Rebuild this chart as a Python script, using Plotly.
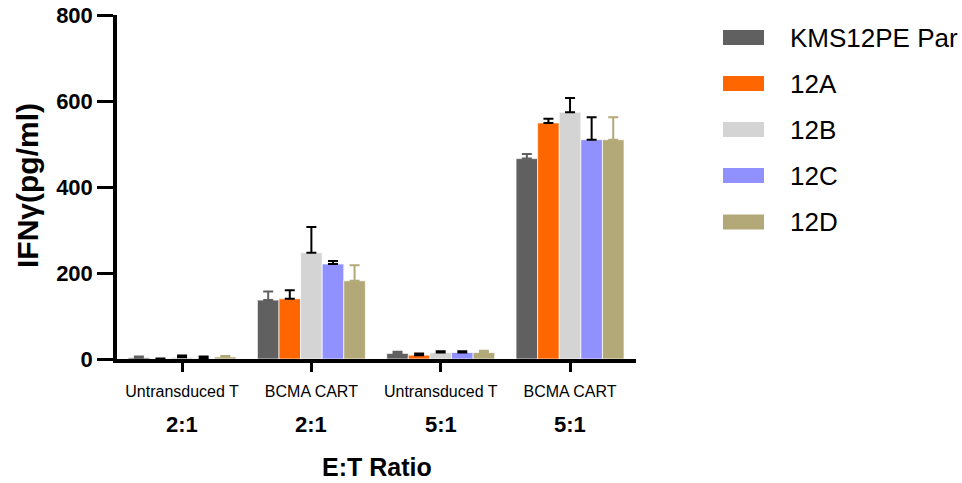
import plotly.graph_objects as go

# IFN-gamma release by effector type and E:T ratio
conditions = ["Untransduced T", "BCMA CART", "Untransduced T", "BCMA CART"]
ratios = ["2:1", "2:1", "5:1", "5:1"]
series = ["KMS12PE Par", "12A", "12B", "12C", "12D"]
colors = ["#606060", "#FF6600", "#D4D4D4", "#9090FF", "#B3A978"]
err_colors = ["#606060", "#000000", "#000000", "#000000", "#B3A978"]

# mean values (pg/ml), one list per target line, across the four conditions
kms12pe_par = [3, 137, 13, 466]
a12 = [0.5, 140, 9, 549]
b12 = [4, 247, 15, 574]
c12 = [1, 221, 15, 510]
d12 = [5, 182, 15, 510]
means = [kms12pe_par, a12, b12, c12, d12]

# upper error (SD)
kms12pe_par_err = [3, 20, 4, 11]
a12_err = [0.5, 20, 4, 10]
b12_err = [4, 60, 3, 33]
c12_err = [5, 7, 3, 52]
d12_err = [2, 36, 4, 52]
errors = [kms12pe_par_err, a12_err, b12_err, c12_err, d12_err]

y_ticks = [0, 200, 400, 600, 800]

FONT = "Liberation Sans, Arial, Helvetica, sans-serif"
positions = list(range(len(conditions)))

fig = go.Figure()
for name, vals, errs, col, ecol in zip(series, means, errors, colors, err_colors):
    fig.add_trace(go.Bar(
        x=positions, y=vals, name=name,
        marker=dict(color=col, line=dict(color="rgba(255,255,255,0.7)", width=1)),
        error_y=dict(type="data", symmetric=False, array=errs,
                     arrayminus=[0] * len(errs), color=ecol,
                     thickness=2, width=5),
        showlegend=False,
    ))

L, R, T, B = 117, 326, 15, 124
plot_w = 962 - L - R
plot_h = 483 - T - B


def py(px):
    """pixel row -> paper y"""
    return (T + plot_h - px) / plot_h


annotations = []
# ratio row under the condition labels
for p, r in zip(positions, ratios):
    annotations.append(dict(x=p, xref="x", y=py(425), yref="paper",
                            text="<b>%s</b>" % r, showarrow=False,
                            xanchor="center", yanchor="middle",
                            font=dict(family=FONT, size=22, color="black")))
# x axis title
annotations.append(dict(x=0.5, xref="paper", y=py(467), yref="paper",
                        text="<b>E:T Ratio</b>", showarrow=False,
                        xanchor="center", yanchor="middle",
                        font=dict(family=FONT, size=25, color="black")))
# y axis title
annotations.append(dict(x=(27 - L) / plot_w, xref="paper", y=py(186), yref="paper",
                        text="<b>IFNγ(pg/ml)</b>", showarrow=False, textangle=-90,
                        xanchor="center", yanchor="middle",
                        font=dict(family=FONT, size=30, color="black")))

# legend: large swatches with labels
shapes = []
row_px = [37.5, 83.5, 129.5, 175.5, 222]
for yc, name, col in zip(row_px, series, colors):
    yp = py(yc)
    half = 7.5 / plot_h
    shapes.append(dict(type="rect", xref="paper", yref="paper",
                       x0=(723 - L) / plot_w, x1=(764 - L) / plot_w,
                       y0=yp - half, y1=yp + half,
                       fillcolor=col, line=dict(width=0)))
    annotations.append(dict(x=(788 - L) / plot_w, xref="paper", y=yp, yref="paper",
                            text=name, showarrow=False, xanchor="left",
                            yanchor="middle",
                            font=dict(family=FONT, size=26, color="black")))

fig.update_layout(
    width=962, height=483,
    margin=dict(l=L, r=R, t=T, b=B, autoexpand=False),
    paper_bgcolor="white", plot_bgcolor="white",
    barmode="group", bargap=0.165, bargroupgap=0,
    font=dict(family=FONT, color="black"),
    annotations=annotations, shapes=shapes,
    xaxis=dict(range=[-0.503, 3.51], tickvals=positions, ticktext=conditions,
               showline=True, linecolor="black", linewidth=3.5,
               ticks="outside", ticklen=9, tickwidth=3, tickcolor="black",
               ticklabelstandoff=6,
               tickfont=dict(family=FONT, size=16, color="black"),
               showgrid=False, zeroline=False, fixedrange=True),
    yaxis=dict(range=[0, 800], tickvals=y_ticks,
               showline=True, linecolor="black", linewidth=3.5,
               ticks="outside", ticklen=16, tickwidth=3, tickcolor="black",
               tickfont=dict(family=FONT, size=22, color="black", weight="bold"),
               showgrid=False, zeroline=False, fixedrange=True),
)

fig.write_html("out.html")
